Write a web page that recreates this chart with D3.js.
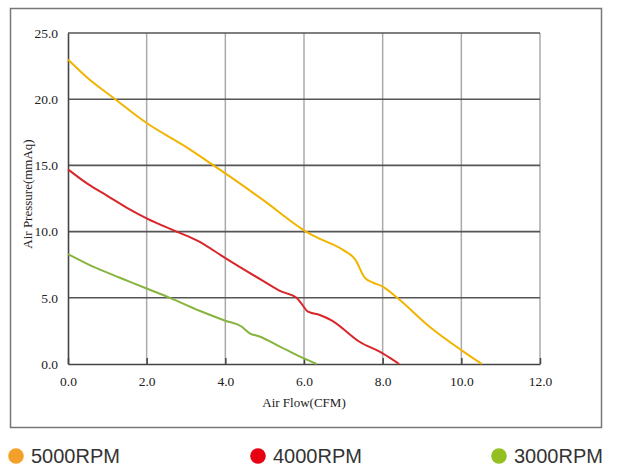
<!DOCTYPE html>
<html>
<head>
<meta charset="utf-8">
<script src="https://cdn.jsdelivr.net/npm/d3@7"></script>
<style>
  body { margin: 0; background: #fff; }
  .tick text { font-family: "Liberation Serif", "Times New Roman", serif; font-size: 13.5px; fill: #222; }
  .axis-title { font-family: "Liberation Serif", "Times New Roman", serif; font-size: 13px; fill: #222; }
  .legend text { font-family: "Liberation Sans", Arial, sans-serif; font-size: 20px; fill: #333; }
</style>
</head>
<body>
<div id="chartContainer"></div>
<script>
// Data
const xTicks = [0, 2, 4, 6, 8, 10, 12];
const yTicks = [0, 5, 10, 15, 20, 25];

const flow5000 = [0, 0.5, 1.2, 2.0, 3.0, 3.7, 4.0, 5.0, 6.0, 6.3, 7.0, 7.3, 7.55, 7.75, 8.0, 8.37, 9.2, 10.0, 10.52];
const pres5000 = [23.0, 21.6, 20.0, 18.2, 16.4, 15.0, 14.4, 12.3, 10.1, 9.6, 8.6, 7.9, 6.5, 6.15, 5.85, 5.0, 2.8, 1.05, 0];

const flow4000 = [0, 0.5, 1.0, 1.5, 2.0, 2.76, 3.3, 4.0, 5.0, 5.4, 5.81, 5.95, 6.1, 6.4, 6.7, 7.4, 8.0, 8.42];
const pres4000 = [14.7, 13.6, 12.7, 11.8, 11.0, 10.0, 9.3, 8.0, 6.2, 5.5, 5.0, 4.5, 3.95, 3.7, 3.3, 1.7, 0.8, 0];

const flow3000 = [0, 0.5, 1.0, 1.5, 2.0, 2.59, 3.36, 4.0, 4.4, 4.63, 4.85, 5.4, 5.9, 6.32];
const pres3000 = [8.3, 7.55, 6.9, 6.3, 5.7, 5.0, 4.0, 3.27, 2.85, 2.3, 2.1, 1.3, 0.55, 0];

const seriesNames = ['5000RPM', '4000RPM', '3000RPM'];
const lineColors = ['#f2b400', '#d9262b', '#86b43e'];
const dotColors = ['#f4a12c', '#e60012', '#92c020'];

const width = 619;
const height = 475;
const plot = { left: 68, right: 540, top: 33, bottom: 364 };

const svg = d3
  .select('#chartContainer')
  .append('svg')
  .attr('width', width)
  .attr('height', height);

svg.append('rect')
  .attr('width', width)
  .attr('height', height)
  .attr('fill', '#fff');

// outer frame
svg.append('rect')
  .attr('x', 10.5)
  .attr('y', 8.5)
  .attr('width', 591)
  .attr('height', 419)
  .attr('fill', 'none')
  .attr('stroke', '#777')
  .attr('stroke-width', 1.5);

const x = d3.scaleLinear().domain([0, 12]).range([plot.left, plot.right]);
const y = d3.scaleLinear().domain([0, 25]).range([plot.bottom, plot.top]);

// vertical grid (light)
svg.append('g')
  .selectAll('line')
  .data(xTicks.slice(1))
  .enter()
  .append('line')
  .attr('x1', d => x(d))
  .attr('x2', d => x(d))
  .attr('y1', y(25))
  .attr('y2', y(0))
  .attr('stroke', '#aaa')
  .attr('stroke-width', 1.5);

// horizontal grid (dark)
svg.append('g')
  .selectAll('line')
  .data(yTicks.slice(1))
  .enter()
  .append('line')
  .attr('x1', x(0))
  .attr('x2', x(12))
  .attr('y1', d => y(d))
  .attr('y2', d => y(d))
  .attr('stroke', '#555')
  .attr('stroke-width', 1.6);

// Axes
const xAxis = d3.axisBottom(x)
  .tickValues(xTicks)
  .tickFormat(d3.format('.1f'))
  .tickSizeInner(-6)
  .tickSizeOuter(0)
  .tickPadding(12);
const yAxis = d3.axisLeft(y)
  .tickValues(yTicks)
  .tickFormat(d3.format('.1f'))
  .tickSize(0)
  .tickPadding(10);

const gx = svg.append('g')
  .attr('transform', `translate(0,${plot.bottom})`)
  .call(xAxis);
gx.select('.domain').attr('stroke', '#444').attr('stroke-width', 1.6);
gx.selectAll('.tick line').attr('stroke', '#444').attr('stroke-width', 1.5);

const gy = svg.append('g')
  .attr('transform', `translate(${plot.left},0)`)
  .call(yAxis);
gy.select('.domain').attr('stroke', '#444').attr('stroke-width', 1.6);

svg.append('text')
  .attr('class', 'axis-title')
  .attr('x', 304)
  .attr('y', 407)
  .attr('text-anchor', 'middle')
  .text('Air Flow(CFM)');

svg.append('text')
  .attr('class', 'axis-title')
  .attr('transform', 'translate(32,194) rotate(-90)')
  .attr('text-anchor', 'middle')
  .text('Air Pressure(mmAq)');

// Curves
const line = d3.line()
  .x(d => x(d[0]))
  .y(d => y(d[1]))
  .curve(d3.curveMonotoneX);

const curves = [
  d3.zip(flow5000, pres5000),
  d3.zip(flow4000, pres4000),
  d3.zip(flow3000, pres3000)
];

svg.append('g')
  .selectAll('path')
  .data(curves)
  .enter()
  .append('path')
  .attr('d', d => line(d))
  .attr('fill', 'none')
  .attr('stroke', (d, i) => lineColors[i])
  .attr('stroke-width', 2);

// Legend
const legendX = [16, 258, 499];
const legend = svg.append('g')
  .attr('class', 'legend')
  .selectAll('g')
  .data(seriesNames)
  .enter()
  .append('g')
  .attr('transform', (d, i) => `translate(${legendX[i]},456)`);

legend.append('circle')
  .attr('r', 7.8)
  .attr('fill', (d, i) => dotColors[i]);

legend.append('text')
  .attr('x', 15)
  .attr('y', 7)
  .text(d => d);
</script>
</body>
</html>
